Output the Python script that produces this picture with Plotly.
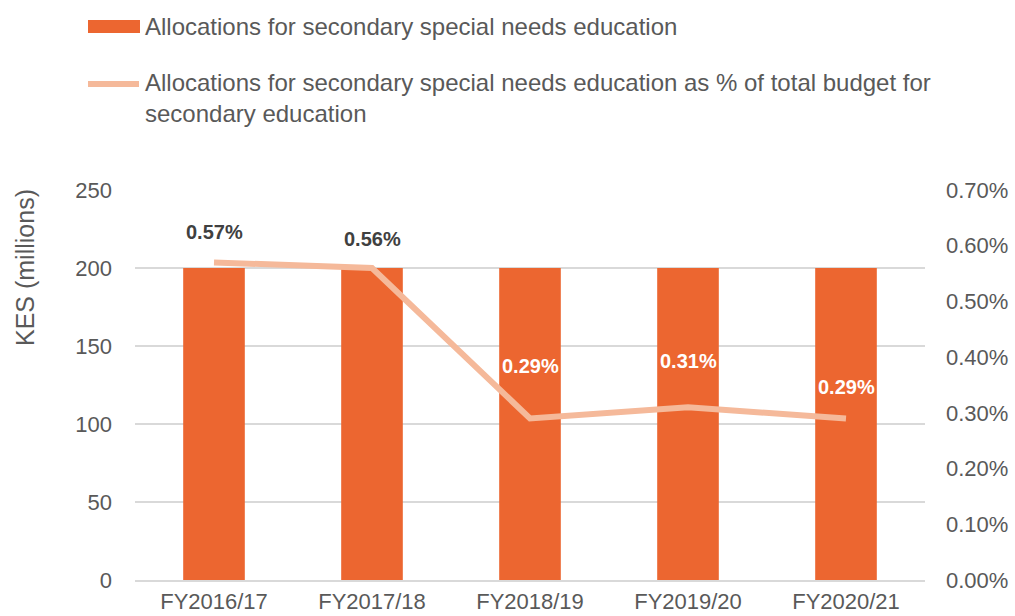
import plotly.graph_objects as go

# Data
years = ["FY2016/17", "FY2017/18", "FY2018/19", "FY2019/20", "FY2020/21"]
allocations_kes_m = [200, 200, 200, 200, 200]
share_of_secondary_pct = [0.57, 0.56, 0.29, 0.31, 0.29]

bar_name = "Allocations for secondary special needs education"
line_name = ("Allocations for secondary special needs education as % of total budget for"
             "<br>secondary education")
y_title = "KES (millions)"

# Styling
BAR_COLOR = "#EC6630"
LINE_COLOR = "#F5B99A"
TEXT_COLOR = "#595959"
GRID_COLOR = "#D9D9D9"
FONT = "Liberation Sans, Arial, sans-serif"

W, H = 1015, 616
L, R, T, B = 135, 90, 190, 36
PW, PH = W - L - R, H - T - B


def px_x(px):
    return (px - L) / PW


def px_y(py):
    return (H - B - py) / PH


label_colors = ["#404040", "#404040", "white", "white", "white"]
label_shift = [30, 29, 52, 46, 31]

fig = go.Figure()
fig.add_trace(go.Bar(
    x=years, y=allocations_kes_m, name=bar_name,
    marker=dict(color=BAR_COLOR, line=dict(width=0)),
    width=0.39, showlegend=False, yaxis="y",
))
fig.add_trace(go.Scatter(
    x=years, y=[v / 100 for v in share_of_secondary_pct], name=line_name,
    mode="lines", line=dict(color=LINE_COLOR, width=6),
    showlegend=False, yaxis="y2",
))

annotations = []
for yr, v, c, s in zip(years, share_of_secondary_pct, label_colors, label_shift):
    annotations.append(dict(
        x=yr, y=v / 100, xref="x", yref="y2", text=f"<b>{v:.2f}%</b>",
        showarrow=False, yshift=s, font=dict(family=FONT, size=20, color=c),
        xanchor="center", yanchor="middle",
    ))

# Legend drawn as swatches with text beside them
annotations.append(dict(
    x=px_x(143), y=px_y(27), xref="paper", yref="paper", text=bar_name,
    showarrow=False, xanchor="left", yanchor="middle", align="left",
    font=dict(family=FONT, size=24, color=TEXT_COLOR),
))
annotations.append(dict(
    x=px_x(143), y=px_y(98), xref="paper", yref="paper", text=line_name,
    showarrow=False, xanchor="left", yanchor="middle", align="left",
    font=dict(family=FONT, size=24, color=TEXT_COLOR),
))
# Left axis title
annotations.append(dict(
    x=px_x(25), y=px_y(268), xref="paper", yref="paper", text=y_title,
    showarrow=False, textangle=-90, xanchor="center", yanchor="middle",
    font=dict(family=FONT, size=25, color=TEXT_COLOR),
))

shapes = [
    dict(type="rect", xref="paper", yref="paper",
         x0=px_x(88), x1=px_x(140), y0=px_y(33), y1=px_y(20),
         fillcolor=BAR_COLOR, line=dict(width=0)),
    dict(type="line", xref="paper", yref="paper",
         x0=px_x(88), x1=px_x(139), y0=px_y(84), y1=px_y(84),
         line=dict(color=LINE_COLOR, width=6)),
]

fig.update_layout(
    width=W, height=H,
    margin=dict(l=L, r=R, t=T, b=B, autoexpand=False),
    paper_bgcolor="white", plot_bgcolor="white",
    font=dict(family=FONT, size=22, color=TEXT_COLOR),
    xaxis=dict(
        showgrid=False, showline=True, linecolor=GRID_COLOR, linewidth=2,
        ticks="", tickfont=dict(size=22, color=TEXT_COLOR),
        ticklabelstandoff=1, automargin=False,
    ),
    yaxis=dict(
        range=[0, 250], dtick=50, showgrid=True, gridcolor=GRID_COLOR, gridwidth=2,
        zeroline=False, showline=False, ticks="", automargin=False,
        tickfont=dict(size=22, color=TEXT_COLOR), ticklabelstandoff=22,
    ),
    yaxis2=dict(
        range=[0, 0.007], dtick=0.001, tickformat=".2%", overlaying="y", side="right",
        showgrid=False, zeroline=False, showline=False, ticks="", automargin=False,
        tickfont=dict(size=22, color=TEXT_COLOR), ticklabelstandoff=20,
    ),
    annotations=annotations,
    shapes=shapes,
)

fig.write_html("out.html")
